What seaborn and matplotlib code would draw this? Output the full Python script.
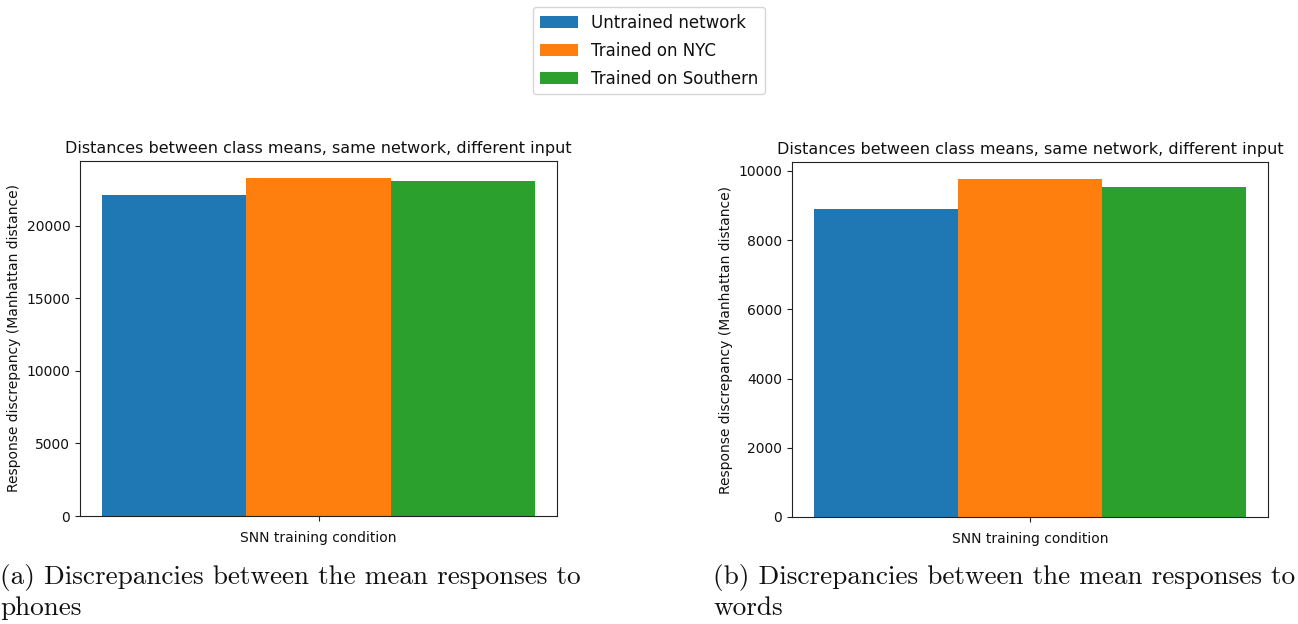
import numpy as np
import pandas as pd
import matplotlib
matplotlib.use("Agg")
import matplotlib.pyplot as plt
import seaborn as sns

series = ["Untrained network", "Trained on NYC", "Trained on Southern"]
colors = ["#1f77b4", "#ff7f0e", "#2ca02c"]
phones_values = [22120, 23300, 23090]
words_values = [8900, 9770, 9540]
title = "Distances between class means, same network, different input"
ylabel = "Response discrepancy (Manhattan distance)"
xlabel = "SNN training condition"
captions = ["(a) Discrepancies between the mean responses to\nphones",
            "(b) Discrepancies between the mean responses to\nwords"]

sns.set_theme(style="ticks")
plt.rcParams["font.family"] = ["DejaVu Sans"]
plt.rcParams["text.color"] = "#111111"
plt.rcParams["axes.labelcolor"] = "#111111"
plt.rcParams["xtick.color"] = "#111111"
plt.rcParams["ytick.color"] = "#111111"

W, H = 1298, 624
fig = plt.figure(figsize=(W / 100, H / 100), dpi=100)

boxes = [(80, 161, 557, 516), (792, 162, 1268, 517)]
handles = None
for (x0, y0, x1, y1), vals, cap, cx in zip(boxes, [phones_values, words_values], captions, [0, 713]):
    ax = fig.add_axes([x0 / W, 1 - y1 / H, (x1 - x0) / W, (y1 - y0) / H])
    df = pd.DataFrame({"cond": [""] * 3, "series": series, "value": vals})
    sns.barplot(data=df, x="cond", y="value", hue="series", palette=colors,
                saturation=1, width=0.8, linewidth=0, ax=ax, legend=True)
    ax.set_xlim(-0.44, 0.44)
    ax.set_ylim(0, max(vals) * 1.05)
    ax.set_xlabel(xlabel, fontsize=10)
    ax.set_ylabel(ylabel, fontsize=10)
    ax.set_title(title, fontsize=11.5, pad=6)
    ax.tick_params(labelsize=10, length=3.5, width=0.8, color="#222222")
    for s in ax.spines.values():
        s.set_linewidth(0.8)
        s.set_color("#222222")
    handles, labels = ax.get_legend_handles_labels()
    ax.get_legend().remove()
    fig.text(cx / W, 1 - 564 / H, cap, ha="left", va="top", family="cmr10",
             fontsize=19.6, linespacing=1.28)

fig.legend(handles, series, loc="upper center", bbox_to_anchor=(0.5, 0.997),
           borderaxespad=0.3, fontsize=12, labelspacing=0.6, frameon=True,
           fancybox=True, edgecolor="#cccccc", handlelength=2.3)

fig.savefig("out.png", dpi=100)
